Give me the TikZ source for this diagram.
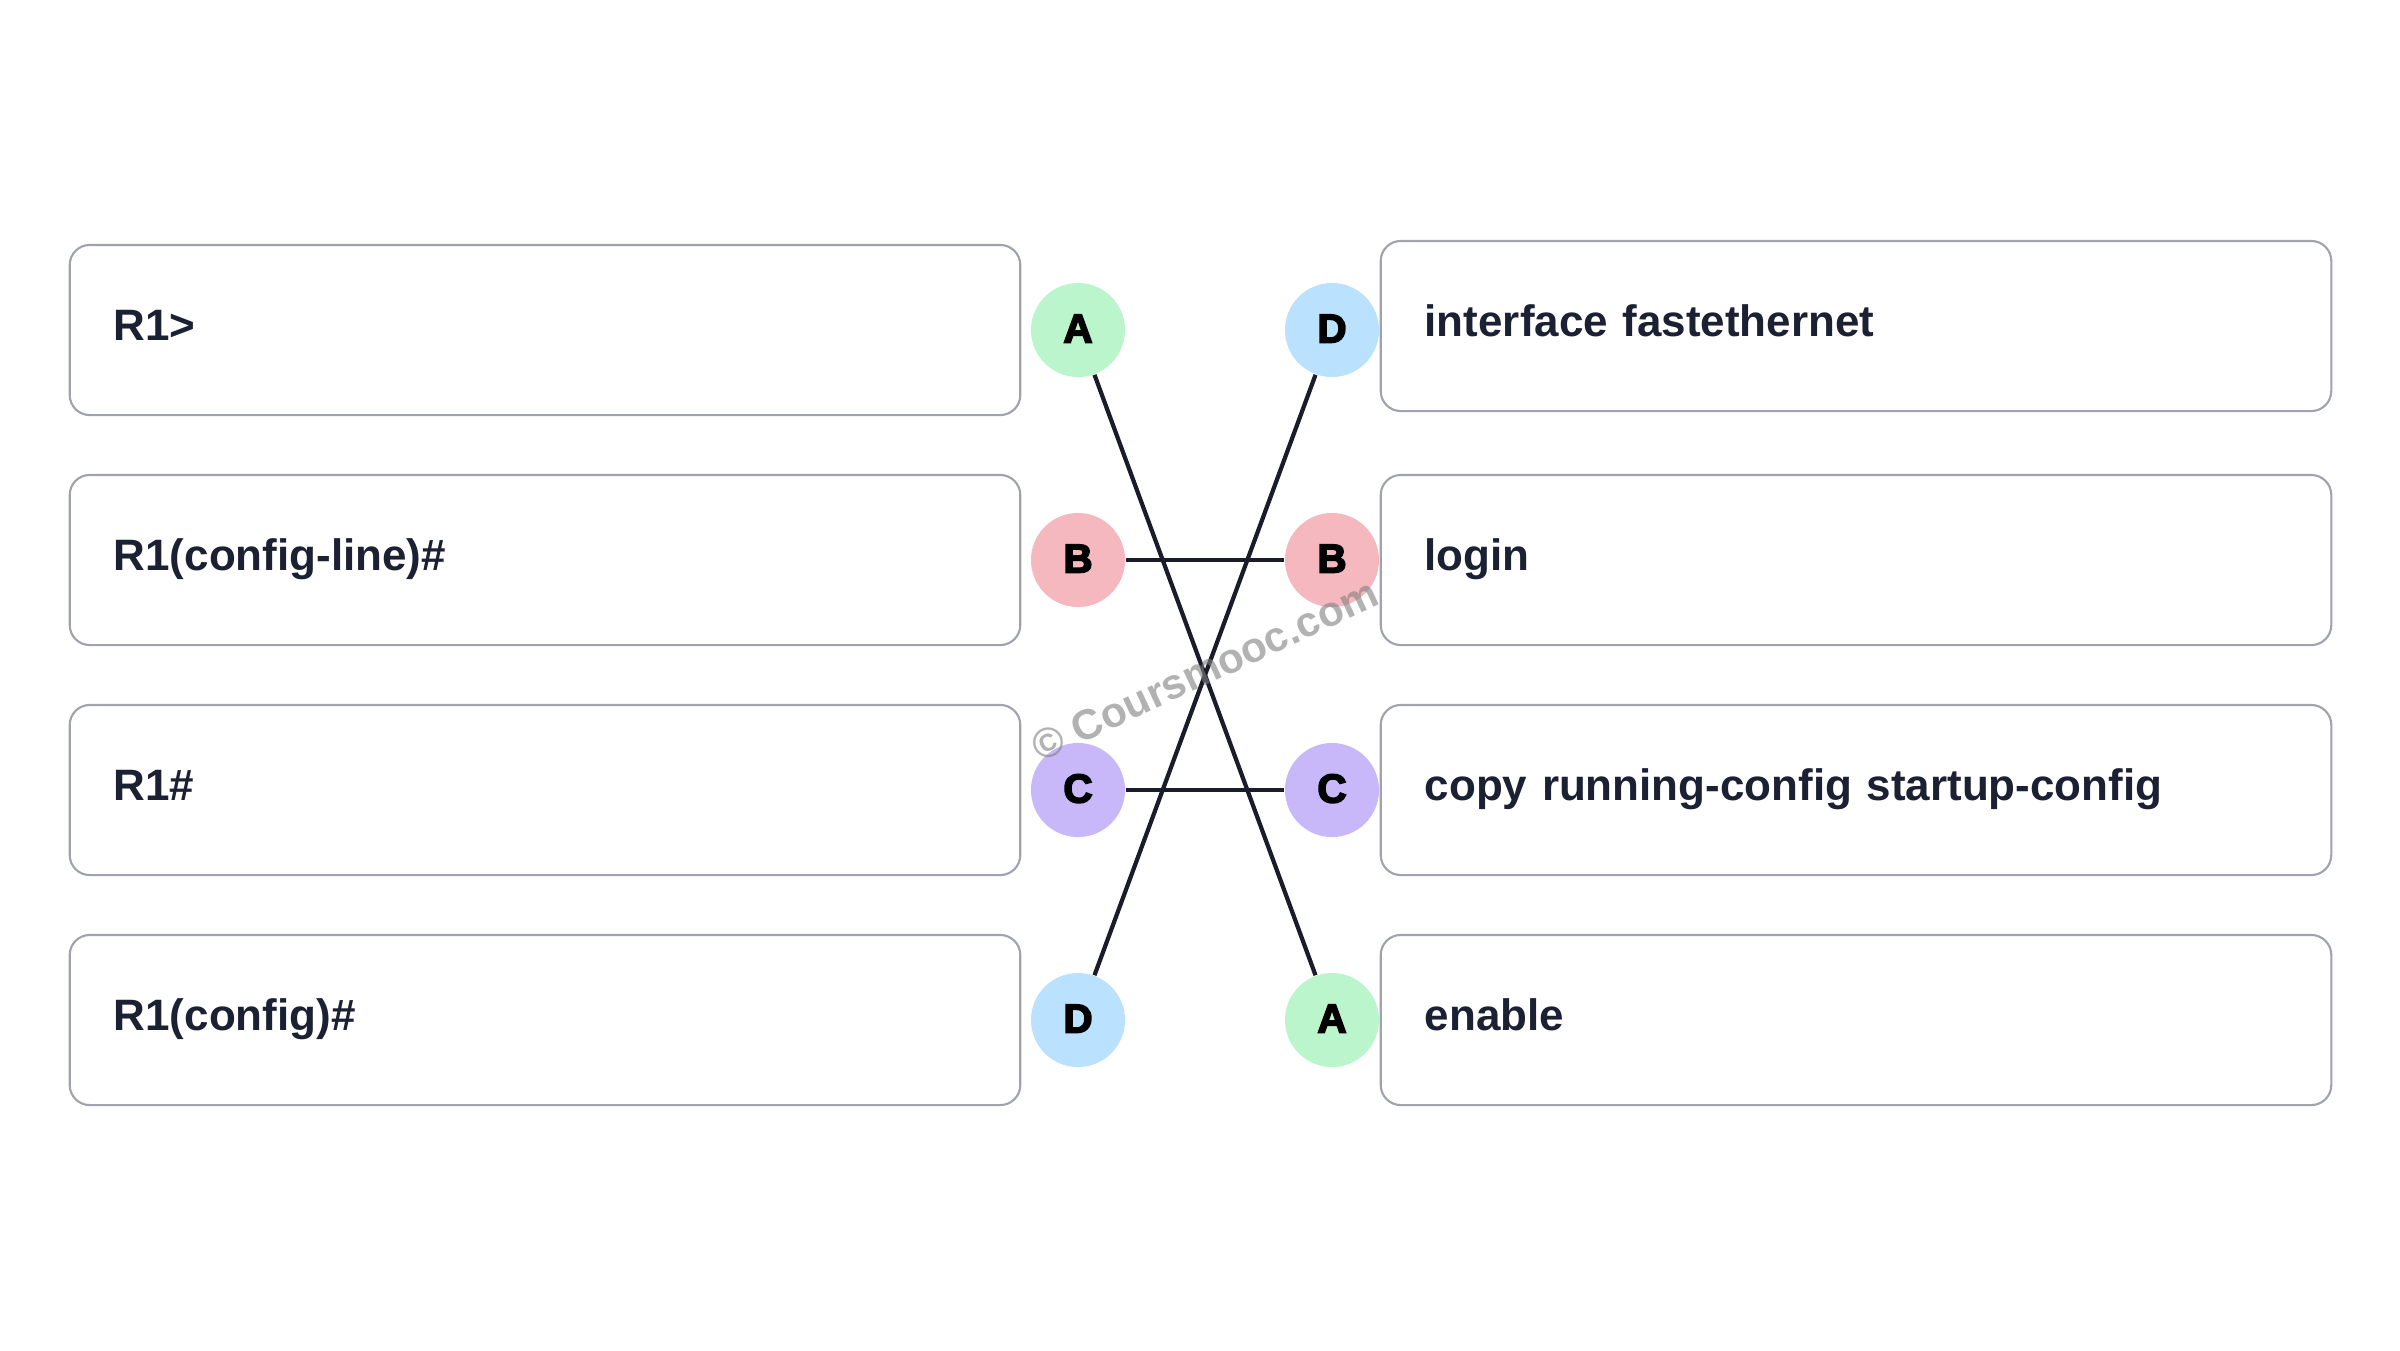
\documentclass[tikz,border=0pt]{standalone}
\usepackage{fontspec}
\setmainfont{Liberation Sans}
\newfontfamily\heavyfont{Liberation Sans}[UprightFont={Liberation Sans Bold}, UprightFeatures={FakeBold=4}]
\definecolor{txt}{HTML}{1C2033}
\definecolor{boxline}{HTML}{A0A3AD}
\definecolor{cA}{HTML}{BBF5CB}
\definecolor{cB}{HTML}{F6B8BF}
\definecolor{cC}{HTML}{C8B8FA}
\definecolor{cD}{HTML}{BAE1FD}
\definecolor{linkc}{HTML}{1A1C2C}
\tikzset{
  x=0.01cm, y=-0.01cm,
  itembox/.style={draw=boxline, line width=0.6pt, rounded corners=0.2cm, fill=white,
    minimum height=1.7cm, text width=8.62cm, inner xsep=0.44cm, align=left,
    text height=0.2cm, text depth=0pt, text=txt,
    font=\fontsize{12.5}{15}\bfseries\selectfont},
  badge/.style={circle, minimum size=0.94cm, inner sep=0pt,
    text height=0.25cm, text depth=0pt,
    font=\fontsize{11.5}{13}\heavyfont\selectfont, text=black},
  link/.style={draw=linkc, line width=1.2pt}
}
\begin{document}
\begin{tikzpicture}
\useasboundingbox (0,0) rectangle (2400,1350);
\fill[white] (0,0) rectangle (2400,1350);
% left boxes
\node[itembox] (L1) at (545,330) {R1>};
\node[itembox] (L2) at (545,560) {R1(config-line)\#};
\node[itembox] (L3) at (545,790) {R1\#};
\node[itembox] (L4) at (545,1020) {R1(config)\#};
% right boxes
\node[itembox] (R1) at (1856,326) {interface fastethernet};
\node[itembox] (R2) at (1856,560) {login};
\node[itembox] (R3) at (1856,790) {copy running-config startup-config};
\node[itembox] (R4) at (1856,1020) {enable};
% badges
\node[badge, fill=cA] (a1) at (1078,330) {A};
\node[badge, fill=cB] (b1) at (1078,560) {B};
\node[badge, fill=cC] (c1) at (1078,790) {C};
\node[badge, fill=cD] (d1) at (1078,1020) {D};
\node[badge, fill=cD] (d2) at (1332,330) {D};
\node[badge, fill=cB] (b2) at (1332,560) {B};
\node[badge, fill=cC] (c2) at (1332,790) {C};
\node[badge, fill=cA] (a2) at (1332,1020) {A};
% links
\draw[link] (a1) -- (a2);
\draw[link] (d1) -- (d2);
\draw[link] (b1) -- (b2);
\draw[link] (c1) -- (c2);
% watermark
\node[rotate=25, text=gray, opacity=0.6, font=\fontsize{12}{14}\bfseries\selectfont] (wm) at (1205,670) {© Coursmooc.com};
\end{tikzpicture}
\end{document}
